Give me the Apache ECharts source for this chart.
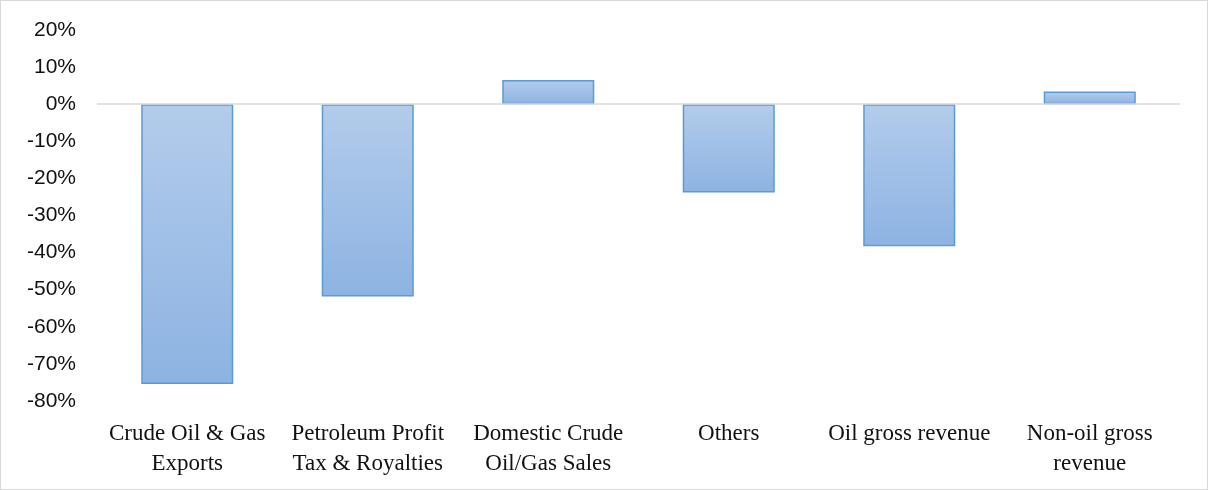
<!DOCTYPE html>
<html>
<head>
<meta charset="utf-8">
<script src="https://cdn.jsdelivr.net/npm/echarts@6/dist/echarts.min.js"></script>
<style>
  html, body { margin: 0; padding: 0; background: #fff; }
  #chart { width: 1206px; height: 488px; border: 1px solid #d9d9d9; }
</style>
</head>
<body>
<div id="chart"></div>
<script>
const categories = [
  'Crude Oil & Gas\nExports',
  'Petroleum Profit\nTax & Royalties',
  'Domestic Crude\nOil/Gas Sales',
  'Others',
  'Oil gross revenue',
  'Non-oil gross\nrevenue'
]
const changePct = [-75.4, -51.8, 6.5, -23.8, -38.3, 3.4]

const chart = echarts.init(document.getElementById('chart'))

chart.setOption({
  animation: false,
  grid: { left: 96, right: 27, top: 29, bottom: 88 },
  xAxis: {
    type: 'category',
    data: categories,
    axisLine: { show: false },
    axisTick: { show: false },
    axisLabel: {
      interval: 0,
      color: '#111',
      fontFamily: 'Liberation Serif',
      fontSize: 23,
      lineHeight: 30,
      margin: 18
    }
  },
  yAxis: {
    type: 'value',
    min: -80,
    max: 20,
    interval: 10,
    splitLine: { show: false },
    axisLine: { show: false },
    axisTick: { show: false },
    axisLabel: {
      formatter: '{value}%',
      color: '#111',
      fontFamily: 'Liberation Sans',
      fontSize: 21,
      margin: 21,
      padding: [6, 0, 0, 0]
    }
  },
  series: [
    {
      type: 'bar',
      data: changePct,
      barWidth: '51%',
      itemStyle: {
        borderColor: '#5b9bd5',
        borderWidth: 1.5,
        color: new echarts.graphic.LinearGradient(0, 0, 0, 1, [
          { offset: 0, color: '#b3cceb' },
          { offset: 1, color: '#8db3e2' }
        ])
      },
      markLine: {
        silent: true,
        symbol: 'none',
        label: { show: false },
        lineStyle: { color: '#d9d9d9', width: 1.5, type: 'solid' },
        data: [{ yAxis: 0 }]
      }
    }
  ]
})
</script>
</body>
</html>
